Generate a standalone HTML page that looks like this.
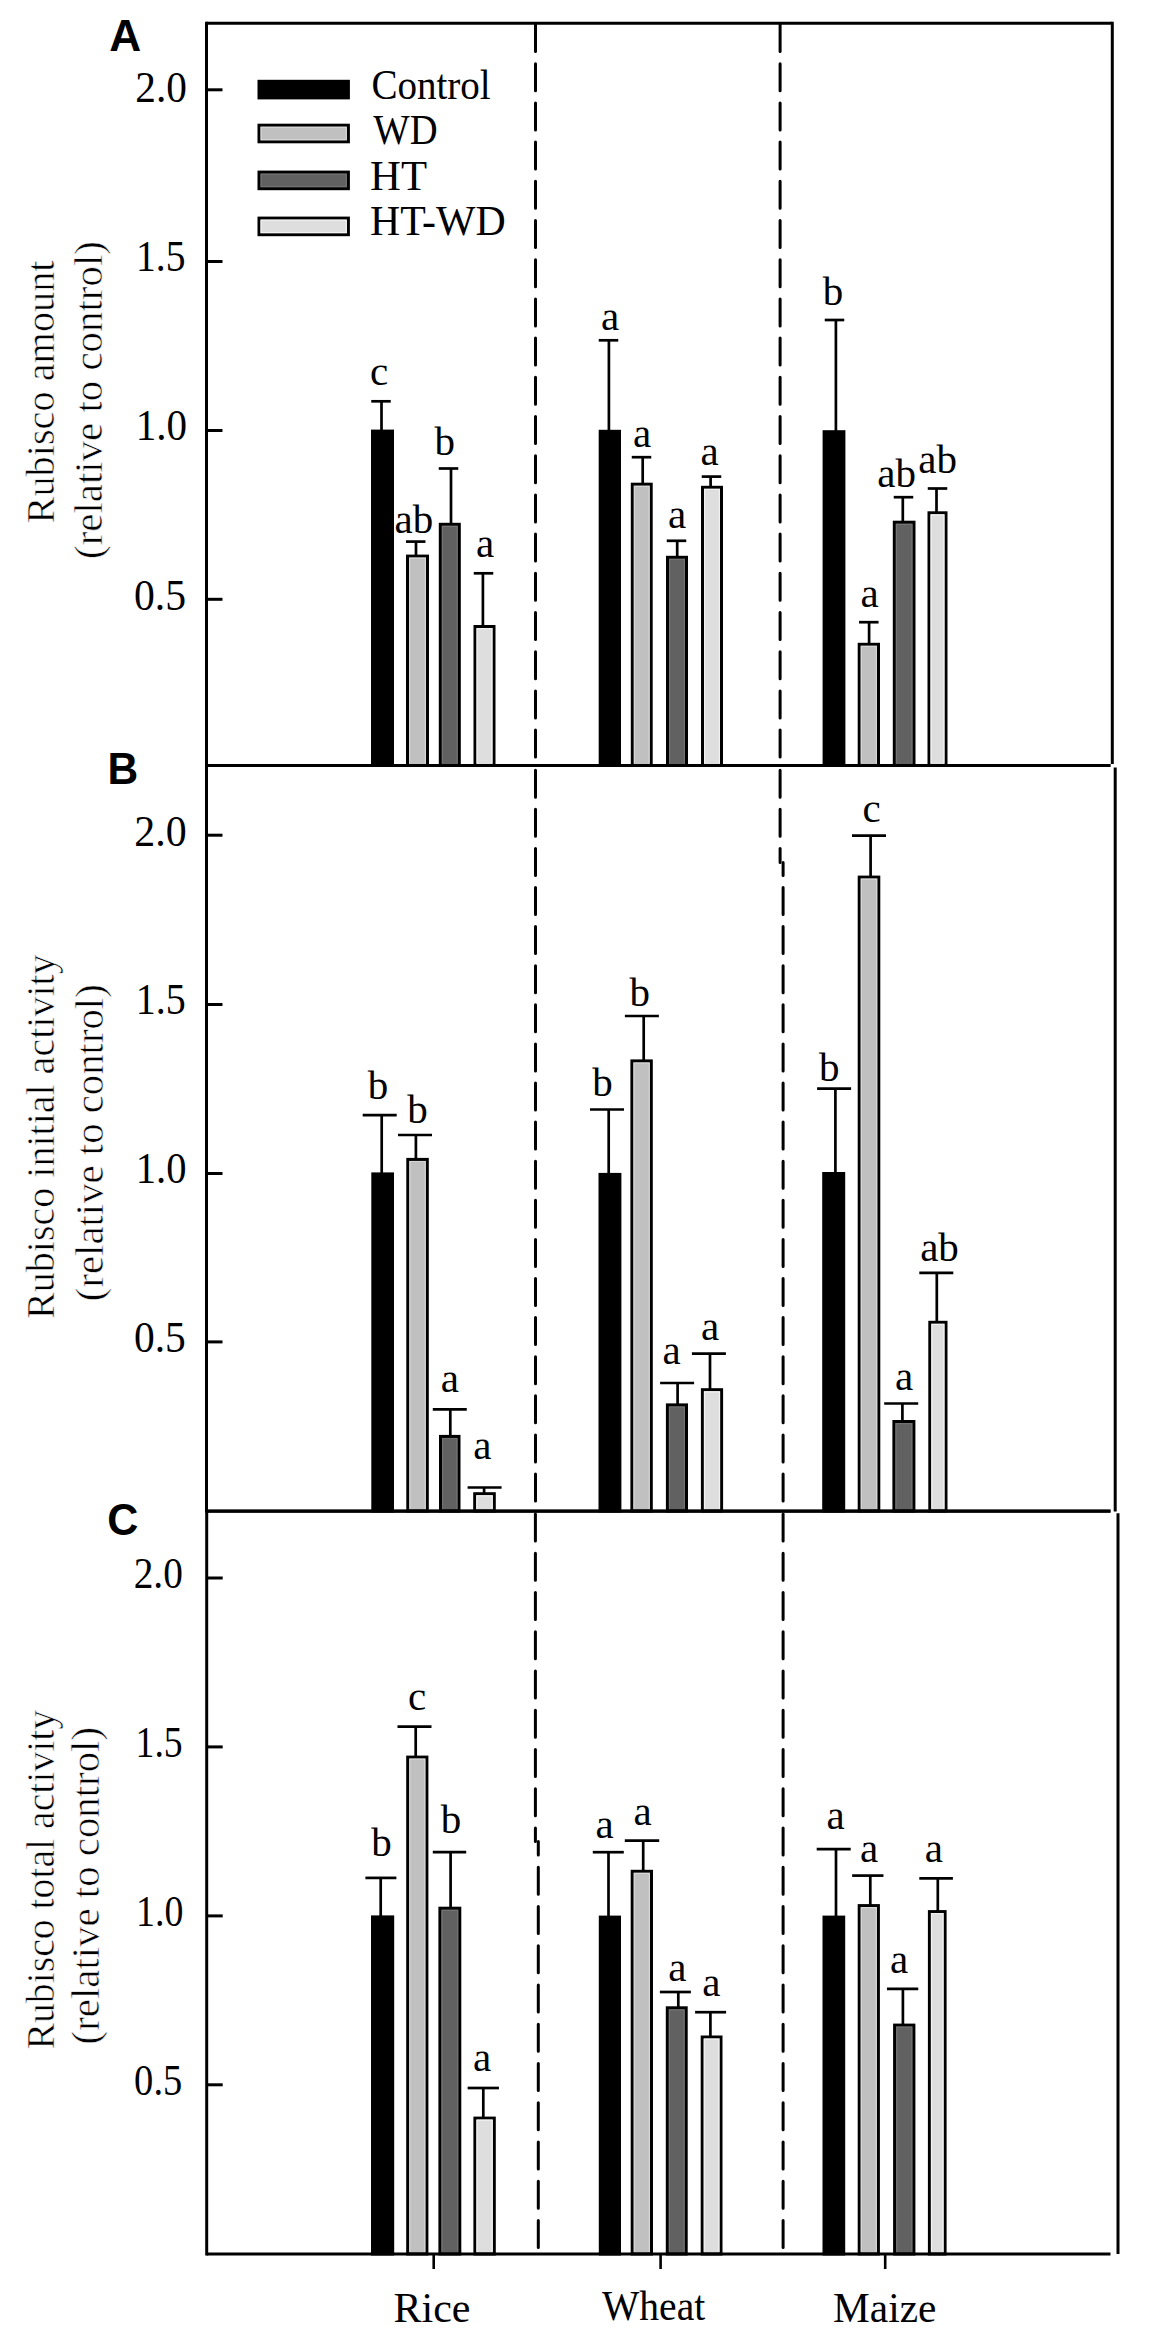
<!DOCTYPE html>
<html><head><meta charset="utf-8"><title>Rubisco chart</title>
<style>
html,body{margin:0;padding:0;background:#fff;}
body{width:1151px;height:2345px;overflow:hidden;}
svg{display:block;}
.s{font-family:"Liberation Serif",serif;font-size:41px;fill:#000;}
.r{stroke:#fff;stroke-width:0.6px;}
.p{font-family:"Liberation Sans",sans-serif;font-weight:bold;font-size:44px;fill:#000;}
</style></head><body>
<svg width="1151" height="2345" viewBox="0 0 1151 2345">
<rect x="0" y="0" width="1151" height="2345" fill="#fff"/>
<line x1="535.5" y1="23.3" x2="535.5" y2="765.5" stroke="#000" stroke-width="3.0" stroke-linecap="round" stroke-dasharray="27 12.2" stroke-dashoffset="38"/>
<line x1="780.1" y1="23.3" x2="780.1" y2="765.5" stroke="#000" stroke-width="3.0" stroke-linecap="round" stroke-dasharray="27 12.2" stroke-dashoffset="38"/>
<line x1="535.5" y1="765.5" x2="535.5" y2="1511" stroke="#000" stroke-width="3.0" stroke-linecap="round" stroke-dasharray="27 12.1" stroke-dashoffset="34.4"/>
<line x1="780.1" y1="765.5" x2="780.1" y2="862.5" stroke="#000" stroke-width="3.0" stroke-linecap="round" stroke-dasharray="27 12.1" stroke-dashoffset="34.4"/>
<line x1="783.1" y1="862.5" x2="783.1" y2="1511" stroke="#000" stroke-width="3.0" stroke-linecap="round" stroke-dasharray="27 12.1" stroke-dashoffset="14.1"/>
<line x1="535.4" y1="1511.3" x2="535.4" y2="1841.5" stroke="#000" stroke-width="3.0" stroke-linecap="round" stroke-dasharray="27 12.25" stroke-dashoffset="36.45"/>
<line x1="538.3" y1="1841.5" x2="538.3" y2="2254" stroke="#000" stroke-width="3.0" stroke-linecap="round" stroke-dasharray="27 12.25" stroke-dashoffset="13.4"/>
<line x1="783.1" y1="1511.3" x2="783.1" y2="2254" stroke="#000" stroke-width="3.0" stroke-linecap="round" stroke-dasharray="27 12.25" stroke-dashoffset="36.45"/>
<line x1="381.5" y1="401.3" x2="381.5" y2="430.6" stroke="#000" stroke-width="2.7"/>
<line x1="371.25" y1="401.3" x2="390.75" y2="401.3" stroke="#000" stroke-width="2.7"/>
<rect x="372.5" y="431.1" width="20" height="334.4" fill="#000000" stroke="#000" stroke-width="3.0"/>
<text x="379" y="384.8" class="s" text-anchor="middle">c</text>
<line x1="416" y1="541.6" x2="416" y2="555.6" stroke="#000" stroke-width="2.7"/>
<line x1="405.95" y1="541.6" x2="425.45" y2="541.6" stroke="#000" stroke-width="2.7"/>
<rect x="407.5" y="556.1" width="20" height="209.4" fill="#c0c0c0" stroke="#000" stroke-width="3.0"/>
<path d="M409.6,763.5 V558.2 H425.4 V763.5" fill="none" stroke="#d6d6d6" stroke-width="1.2"/>
<text x="413.8" y="533.2" class="s" text-anchor="middle">ab</text>
<line x1="451" y1="468.5" x2="451" y2="523.8" stroke="#000" stroke-width="2.7"/>
<line x1="438.75" y1="468.5" x2="458.25" y2="468.5" stroke="#000" stroke-width="2.7"/>
<rect x="440.3" y="524.3" width="19" height="241.2" fill="#616161" stroke="#000" stroke-width="3.0"/>
<path d="M442.4,763.5 V526.4 H457.2 V763.5" fill="none" stroke="#727272" stroke-width="1.2"/>
<text x="444.7" y="455" class="s" text-anchor="middle">b</text>
<line x1="482.9" y1="573.3" x2="482.9" y2="626" stroke="#000" stroke-width="2.7"/>
<line x1="473.75" y1="573.3" x2="493.25" y2="573.3" stroke="#000" stroke-width="2.7"/>
<rect x="475" y="626.5" width="19" height="139" fill="#dedede" stroke="#000" stroke-width="3.0"/>
<path d="M477.1,763.5 V628.6 H491.9 V763.5" fill="none" stroke="#f2f2f2" stroke-width="1.2"/>
<text x="485" y="557.3" class="s" text-anchor="middle">a</text>
<line x1="608.9" y1="340.3" x2="608.9" y2="430.8" stroke="#000" stroke-width="2.7"/>
<line x1="598.75" y1="340.3" x2="618.25" y2="340.3" stroke="#000" stroke-width="2.7"/>
<rect x="600.2" y="431.3" width="19.3" height="334.2" fill="#000000" stroke="#000" stroke-width="3.0"/>
<text x="610" y="330" class="s" text-anchor="middle">a</text>
<line x1="642.7" y1="457.2" x2="642.7" y2="483.7" stroke="#000" stroke-width="2.7"/>
<line x1="631.75" y1="457.2" x2="651.25" y2="457.2" stroke="#000" stroke-width="2.7"/>
<rect x="632.3" y="484.2" width="18.9" height="281.3" fill="#c0c0c0" stroke="#000" stroke-width="3.0"/>
<path d="M634.4,763.5 V486.3 H649.1 V763.5" fill="none" stroke="#d6d6d6" stroke-width="1.2"/>
<text x="642" y="446.5" class="s" text-anchor="middle">a</text>
<line x1="677.2" y1="540.8" x2="677.2" y2="556.8" stroke="#000" stroke-width="2.7"/>
<line x1="666.75" y1="540.8" x2="686.25" y2="540.8" stroke="#000" stroke-width="2.7"/>
<rect x="667.5" y="557.3" width="19" height="208.2" fill="#616161" stroke="#000" stroke-width="3.0"/>
<path d="M669.6,763.5 V559.4 H684.4 V763.5" fill="none" stroke="#727272" stroke-width="1.2"/>
<text x="677" y="528" class="s" text-anchor="middle">a</text>
<line x1="710.6" y1="476.6" x2="710.6" y2="486.8" stroke="#000" stroke-width="2.7"/>
<line x1="701.75" y1="476.6" x2="721.25" y2="476.6" stroke="#000" stroke-width="2.7"/>
<rect x="702.5" y="487.3" width="19" height="278.2" fill="#dedede" stroke="#000" stroke-width="3.0"/>
<path d="M704.6,763.5 V489.4 H719.4 V763.5" fill="none" stroke="#f2f2f2" stroke-width="1.2"/>
<text x="709.5" y="464.5" class="s" text-anchor="middle">a</text>
<line x1="835.9" y1="320" x2="835.9" y2="431.2" stroke="#000" stroke-width="2.7"/>
<line x1="824.75" y1="320" x2="844.25" y2="320" stroke="#000" stroke-width="2.7"/>
<rect x="824.1" y="431.7" width="19.8" height="333.8" fill="#000000" stroke="#000" stroke-width="3.0"/>
<text x="833" y="304.8" class="s" text-anchor="middle">b</text>
<line x1="869.1" y1="622.2" x2="869.1" y2="643.8" stroke="#000" stroke-width="2.7"/>
<line x1="859.05" y1="622.2" x2="878.55" y2="622.2" stroke="#000" stroke-width="2.7"/>
<rect x="859.2" y="644.3" width="19.3" height="121.2" fill="#c0c0c0" stroke="#000" stroke-width="3.0"/>
<path d="M861.3,763.5 V646.4 H876.4 V763.5" fill="none" stroke="#d6d6d6" stroke-width="1.2"/>
<text x="869.7" y="607" class="s" text-anchor="middle">a</text>
<line x1="902.8" y1="497.2" x2="902.8" y2="521.7" stroke="#000" stroke-width="2.7"/>
<line x1="893.75" y1="497.2" x2="913.25" y2="497.2" stroke="#000" stroke-width="2.7"/>
<rect x="894.3" y="522.2" width="19.7" height="243.3" fill="#616161" stroke="#000" stroke-width="3.0"/>
<path d="M896.4,763.5 V524.3 H911.9 V763.5" fill="none" stroke="#727272" stroke-width="1.2"/>
<text x="896.6" y="487.4" class="s" text-anchor="middle">ab</text>
<line x1="936.5" y1="488.5" x2="936.5" y2="512.3" stroke="#000" stroke-width="2.7"/>
<line x1="927.75" y1="488.5" x2="947.25" y2="488.5" stroke="#000" stroke-width="2.7"/>
<rect x="929" y="512.8" width="17" height="252.7" fill="#dedede" stroke="#000" stroke-width="3.0"/>
<path d="M931.1,763.5 V514.9 H943.9 V763.5" fill="none" stroke="#f2f2f2" stroke-width="1.2"/>
<text x="937.6" y="473" class="s" text-anchor="middle">ab</text>
<line x1="206.5" y1="21.8" x2="206.5" y2="767" stroke="#000" stroke-width="3.0"/>
<line x1="206.5" y1="23.3" x2="1112.3" y2="23.3" stroke="#000" stroke-width="3.0"/>
<line x1="206.5" y1="765.5" x2="1110.3" y2="765.5" stroke="#000" stroke-width="3.0"/>
<line x1="1112.3" y1="21.8" x2="1112.3" y2="764" stroke="#000" stroke-width="3.0"/>
<line x1="206.5" y1="89.8" x2="222.5" y2="89.8" stroke="#000" stroke-width="3.0"/>
<line x1="206.5" y1="261.5" x2="222.5" y2="261.5" stroke="#000" stroke-width="3.0"/>
<line x1="206.5" y1="430.5" x2="222.5" y2="430.5" stroke="#000" stroke-width="3.0"/>
<line x1="206.5" y1="599.3" x2="222.5" y2="599.3" stroke="#000" stroke-width="3.0"/>
<line x1="381.7" y1="1115.1" x2="381.7" y2="1173.4" stroke="#000" stroke-width="2.7"/>
<line x1="362.7" y1="1115.1" x2="396.7" y2="1115.1" stroke="#000" stroke-width="2.7"/>
<rect x="372.8" y="1173.9" width="19.7" height="337.1" fill="#000000" stroke="#000" stroke-width="3.0"/>
<text x="378" y="1099" class="s" text-anchor="middle">b</text>
<line x1="415.9" y1="1135" x2="415.9" y2="1158.9" stroke="#000" stroke-width="2.7"/>
<line x1="398" y1="1135" x2="432" y2="1135" stroke="#000" stroke-width="2.7"/>
<rect x="407.8" y="1159.4" width="19.5" height="351.6" fill="#c0c0c0" stroke="#000" stroke-width="3.0"/>
<path d="M409.9,1509 V1161.5 H425.2 V1509" fill="none" stroke="#d6d6d6" stroke-width="1.2"/>
<text x="417.5" y="1122.7" class="s" text-anchor="middle">b</text>
<line x1="450.3" y1="1409.3" x2="450.3" y2="1435.9" stroke="#000" stroke-width="2.7"/>
<line x1="432.8" y1="1409.3" x2="466.8" y2="1409.3" stroke="#000" stroke-width="2.7"/>
<rect x="440.5" y="1436.4" width="18.5" height="74.6" fill="#616161" stroke="#000" stroke-width="3.0"/>
<path d="M442.6,1509 V1438.5 H456.9 V1509" fill="none" stroke="#727272" stroke-width="1.2"/>
<text x="449.8" y="1391.9" class="s" text-anchor="middle">a</text>
<line x1="484.1" y1="1487.5" x2="484.1" y2="1493.2" stroke="#000" stroke-width="2.7"/>
<line x1="467.6" y1="1487.5" x2="501.6" y2="1487.5" stroke="#000" stroke-width="2.7"/>
<rect x="474.7" y="1493.7" width="19.6" height="17.3" fill="#dedede" stroke="#000" stroke-width="3.0"/>
<path d="M476.8,1509 V1495.8 H492.2 V1509" fill="none" stroke="#f2f2f2" stroke-width="1.2"/>
<text x="482.4" y="1459.4" class="s" text-anchor="middle">a</text>
<line x1="608.7" y1="1109.5" x2="608.7" y2="1173.9" stroke="#000" stroke-width="2.7"/>
<line x1="590" y1="1109.5" x2="624" y2="1109.5" stroke="#000" stroke-width="2.7"/>
<rect x="600" y="1174.4" width="19.9" height="336.6" fill="#000000" stroke="#000" stroke-width="3.0"/>
<text x="602.6" y="1095.5" class="s" text-anchor="middle">b</text>
<line x1="643.7" y1="1016" x2="643.7" y2="1060.4" stroke="#000" stroke-width="2.7"/>
<line x1="624.9" y1="1016" x2="658.9" y2="1016" stroke="#000" stroke-width="2.7"/>
<rect x="631.9" y="1060.9" width="19.4" height="450.1" fill="#c0c0c0" stroke="#000" stroke-width="3.0"/>
<path d="M634,1509 V1063 H649.2 V1509" fill="none" stroke="#d6d6d6" stroke-width="1.2"/>
<text x="639.8" y="1005.9" class="s" text-anchor="middle">b</text>
<line x1="677.6" y1="1383" x2="677.6" y2="1404.4" stroke="#000" stroke-width="2.7"/>
<line x1="660.1" y1="1383" x2="694.1" y2="1383" stroke="#000" stroke-width="2.7"/>
<rect x="667.4" y="1404.9" width="19.1" height="106.1" fill="#616161" stroke="#000" stroke-width="3.0"/>
<path d="M669.5,1509 V1407 H684.4 V1509" fill="none" stroke="#727272" stroke-width="1.2"/>
<text x="671.5" y="1363.8" class="s" text-anchor="middle">a</text>
<line x1="710" y1="1353.7" x2="710" y2="1389.2" stroke="#000" stroke-width="2.7"/>
<line x1="691.9" y1="1353.7" x2="725.9" y2="1353.7" stroke="#000" stroke-width="2.7"/>
<rect x="702.4" y="1389.7" width="19.2" height="121.3" fill="#dedede" stroke="#000" stroke-width="3.0"/>
<path d="M704.5,1509 V1391.8 H719.5 V1509" fill="none" stroke="#f2f2f2" stroke-width="1.2"/>
<text x="710" y="1340.1" class="s" text-anchor="middle">a</text>
<line x1="835.4" y1="1088.7" x2="835.4" y2="1173" stroke="#000" stroke-width="2.7"/>
<line x1="817.1" y1="1088.7" x2="851.1" y2="1088.7" stroke="#000" stroke-width="2.7"/>
<rect x="823.7" y="1173.5" width="20" height="337.5" fill="#000000" stroke="#000" stroke-width="3.0"/>
<text x="829.2" y="1081" class="s" text-anchor="middle">b</text>
<line x1="870.6" y1="835.6" x2="870.6" y2="876.6" stroke="#000" stroke-width="2.7"/>
<line x1="852" y1="835.6" x2="886" y2="835.6" stroke="#000" stroke-width="2.7"/>
<rect x="859.2" y="877.1" width="19.6" height="633.9" fill="#c0c0c0" stroke="#000" stroke-width="3.0"/>
<path d="M861.3,1509 V879.2 H876.7 V1509" fill="none" stroke="#d6d6d6" stroke-width="1.2"/>
<text x="871.5" y="822.4" class="s" text-anchor="middle">c</text>
<line x1="902.4" y1="1403.5" x2="902.4" y2="1421" stroke="#000" stroke-width="2.7"/>
<line x1="884.2" y1="1403.5" x2="918.2" y2="1403.5" stroke="#000" stroke-width="2.7"/>
<rect x="893.9" y="1421.5" width="20" height="89.5" fill="#616161" stroke="#000" stroke-width="3.0"/>
<path d="M896,1509 V1423.6 H911.8 V1509" fill="none" stroke="#727272" stroke-width="1.2"/>
<text x="904" y="1390.4" class="s" text-anchor="middle">a</text>
<line x1="936.8" y1="1272.8" x2="936.8" y2="1321.8" stroke="#000" stroke-width="2.7"/>
<line x1="919.3" y1="1272.8" x2="953.3" y2="1272.8" stroke="#000" stroke-width="2.7"/>
<rect x="929.8" y="1322.3" width="16.2" height="188.7" fill="#dedede" stroke="#000" stroke-width="3.0"/>
<path d="M931.9,1509 V1324.4 H943.9 V1509" fill="none" stroke="#f2f2f2" stroke-width="1.2"/>
<text x="939.5" y="1261.3" class="s" text-anchor="middle">ab</text>
<line x1="206.5" y1="764" x2="206.5" y2="1512.5" stroke="#000" stroke-width="3.0"/>
<line x1="206.5" y1="765.5" x2="1110.5" y2="765.5" stroke="#000" stroke-width="3.0"/>
<line x1="206.5" y1="1511" x2="1110.5" y2="1511" stroke="#000" stroke-width="3.0"/>
<line x1="1115.2" y1="767.5" x2="1115.2" y2="1511.5" stroke="#000" stroke-width="3.0"/>
<line x1="206.5" y1="835.2" x2="222.5" y2="835.2" stroke="#000" stroke-width="3.0"/>
<line x1="206.5" y1="1004.5" x2="222.5" y2="1004.5" stroke="#000" stroke-width="3.0"/>
<line x1="206.5" y1="1173.5" x2="222.5" y2="1173.5" stroke="#000" stroke-width="3.0"/>
<line x1="206.5" y1="1341.9" x2="222.5" y2="1341.9" stroke="#000" stroke-width="3.0"/>
<line x1="380.7" y1="1877.9" x2="380.7" y2="1916.4" stroke="#000" stroke-width="2.7"/>
<line x1="365.4" y1="1877.9" x2="396.4" y2="1877.9" stroke="#000" stroke-width="2.7"/>
<rect x="372.5" y="1916.9" width="20.2" height="337.1" fill="#000000" stroke="#000" stroke-width="3.0"/>
<text x="381.4" y="1856.4" class="s" text-anchor="middle">b</text>
<line x1="415.7" y1="1726.7" x2="415.7" y2="1756.6" stroke="#000" stroke-width="2.7"/>
<line x1="397.5" y1="1726.7" x2="431.5" y2="1726.7" stroke="#000" stroke-width="2.7"/>
<rect x="407.7" y="1757.1" width="19.2" height="496.9" fill="#c0c0c0" stroke="#000" stroke-width="3.0"/>
<path d="M409.8,2252 V1759.2 H424.8 V2252" fill="none" stroke="#d6d6d6" stroke-width="1.2"/>
<text x="417" y="1710.4" class="s" text-anchor="middle">c</text>
<line x1="450.6" y1="1852.2" x2="450.6" y2="1907.7" stroke="#000" stroke-width="2.7"/>
<line x1="432.8" y1="1852.2" x2="466.2" y2="1852.2" stroke="#000" stroke-width="2.7"/>
<rect x="439.9" y="1908.2" width="19.9" height="345.8" fill="#616161" stroke="#000" stroke-width="3.0"/>
<path d="M442,2252 V1910.3 H457.7 V2252" fill="none" stroke="#727272" stroke-width="1.2"/>
<text x="450.9" y="1832.7" class="s" text-anchor="middle">b</text>
<line x1="483.3" y1="2088" x2="483.3" y2="2117.6" stroke="#000" stroke-width="2.7"/>
<line x1="467.65" y1="2088" x2="498.95" y2="2088" stroke="#000" stroke-width="2.7"/>
<rect x="474.9" y="2118.1" width="19.4" height="135.9" fill="#dedede" stroke="#000" stroke-width="3.0"/>
<path d="M477,2252 V2120.2 H492.2 V2252" fill="none" stroke="#f2f2f2" stroke-width="1.2"/>
<text x="482.2" y="2071.3" class="s" text-anchor="middle">a</text>
<line x1="608.5" y1="1852.2" x2="608.5" y2="1916.6" stroke="#000" stroke-width="2.7"/>
<line x1="592.8" y1="1852.2" x2="623.8" y2="1852.2" stroke="#000" stroke-width="2.7"/>
<rect x="600.3" y="1917.1" width="19.2" height="336.9" fill="#000000" stroke="#000" stroke-width="3.0"/>
<text x="604.7" y="1837.7" class="s" text-anchor="middle">a</text>
<line x1="643.2" y1="1840.6" x2="643.2" y2="1870.8" stroke="#000" stroke-width="2.7"/>
<line x1="624.8" y1="1840.6" x2="659.2" y2="1840.6" stroke="#000" stroke-width="2.7"/>
<rect x="632.2" y="1871.3" width="19.3" height="382.7" fill="#c0c0c0" stroke="#000" stroke-width="3.0"/>
<path d="M634.3,2252 V1873.4 H649.4 V2252" fill="none" stroke="#d6d6d6" stroke-width="1.2"/>
<text x="642.7" y="1824.5" class="s" text-anchor="middle">a</text>
<line x1="678.3" y1="1992" x2="678.3" y2="2007.3" stroke="#000" stroke-width="2.7"/>
<line x1="659.9" y1="1992" x2="690.9" y2="1992" stroke="#000" stroke-width="2.7"/>
<rect x="667.3" y="2007.8" width="18.9" height="246.2" fill="#616161" stroke="#000" stroke-width="3.0"/>
<path d="M669.4,2252 V2009.9 H684.1 V2252" fill="none" stroke="#727272" stroke-width="1.2"/>
<text x="677.3" y="1981.2" class="s" text-anchor="middle">a</text>
<line x1="710.4" y1="2012.2" x2="710.4" y2="2036.5" stroke="#000" stroke-width="2.7"/>
<line x1="695.1" y1="2012.2" x2="726.1" y2="2012.2" stroke="#000" stroke-width="2.7"/>
<rect x="702.2" y="2037" width="18.8" height="217" fill="#dedede" stroke="#000" stroke-width="3.0"/>
<path d="M704.3,2252 V2039.1 H718.9 V2252" fill="none" stroke="#f2f2f2" stroke-width="1.2"/>
<text x="711.3" y="1995.8" class="s" text-anchor="middle">a</text>
<line x1="836" y1="1849.2" x2="836" y2="1916.6" stroke="#000" stroke-width="2.7"/>
<line x1="816.7" y1="1849.2" x2="850.7" y2="1849.2" stroke="#000" stroke-width="2.7"/>
<rect x="824" y="1917.1" width="19.7" height="336.9" fill="#000000" stroke="#000" stroke-width="3.0"/>
<text x="835.5" y="1829.4" class="s" text-anchor="middle">a</text>
<line x1="870.3" y1="1875.6" x2="870.3" y2="1905.1" stroke="#000" stroke-width="2.7"/>
<line x1="852.15" y1="1875.6" x2="883.45" y2="1875.6" stroke="#000" stroke-width="2.7"/>
<rect x="859.2" y="1905.6" width="19.2" height="348.4" fill="#c0c0c0" stroke="#000" stroke-width="3.0"/>
<path d="M861.3,2252 V1907.7 H876.3 V2252" fill="none" stroke="#d6d6d6" stroke-width="1.2"/>
<text x="869" y="1861.7" class="s" text-anchor="middle">a</text>
<line x1="902.9" y1="1988.9" x2="902.9" y2="2024.6" stroke="#000" stroke-width="2.7"/>
<line x1="886.95" y1="1988.9" x2="918.25" y2="1988.9" stroke="#000" stroke-width="2.7"/>
<rect x="894.6" y="2025.1" width="19.3" height="228.9" fill="#616161" stroke="#000" stroke-width="3.0"/>
<path d="M896.7,2252 V2027.2 H911.8 V2252" fill="none" stroke="#727272" stroke-width="1.2"/>
<text x="899" y="1972.9" class="s" text-anchor="middle">a</text>
<line x1="937.8" y1="1878.4" x2="937.8" y2="1911.1" stroke="#000" stroke-width="2.7"/>
<line x1="919.3" y1="1878.4" x2="952.9" y2="1878.4" stroke="#000" stroke-width="2.7"/>
<rect x="929.4" y="1911.6" width="15.7" height="342.4" fill="#dedede" stroke="#000" stroke-width="3.0"/>
<path d="M931.5,2252 V1913.7 H943 V2252" fill="none" stroke="#f2f2f2" stroke-width="1.2"/>
<text x="933.8" y="1861.7" class="s" text-anchor="middle">a</text>
<line x1="206.7" y1="1509.8" x2="206.7" y2="2255.5" stroke="#000" stroke-width="3.0"/>
<line x1="206.7" y1="1511.3" x2="1110.5" y2="1511.3" stroke="#000" stroke-width="3.0"/>
<line x1="206.7" y1="2254" x2="1110.5" y2="2254" stroke="#000" stroke-width="3.0"/>
<line x1="1118" y1="1513.3" x2="1118" y2="2254" stroke="#000" stroke-width="3.0"/>
<line x1="206.7" y1="1578" x2="222.7" y2="1578" stroke="#000" stroke-width="3.0"/>
<line x1="206.7" y1="1746.9" x2="222.7" y2="1746.9" stroke="#000" stroke-width="3.0"/>
<line x1="206.7" y1="1915.9" x2="222.7" y2="1915.9" stroke="#000" stroke-width="3.0"/>
<line x1="206.7" y1="2084.8" x2="222.7" y2="2084.8" stroke="#000" stroke-width="3.0"/>
<text transform="matrix(1.0083,0,0,1.0800,135.28,102.19)" class="s">2.0</text>
<text transform="matrix(0.9652,0,0,1.0800,136.04,271.14)" class="s">1.5</text>
<text transform="matrix(1.0022,0,0,1.0800,135.69,440.49)" class="s">1.0</text>
<text transform="matrix(1.0167,0,0,1.0800,133.97,609.64)" class="s">0.5</text>
<text transform="matrix(1.0229,0,0,1.0800,134.35,845.74)" class="s">2.0</text>
<text transform="matrix(0.9761,0,0,1.0800,135.80,1013.99)" class="s">1.5</text>
<text transform="matrix(0.9891,0,0,1.0800,135.74,1183.14)" class="s">1.0</text>
<text transform="matrix(1.0125,0,0,1.0800,133.98,1351.99)" class="s">0.5</text>
<text transform="matrix(0.9604,0,0,1.0800,133.68,1587.94)" class="s">2.0</text>
<text transform="matrix(0.9200,0,0,1.0800,135.56,1756.99)" class="s">1.5</text>
<text transform="matrix(0.9239,0,0,1.0800,136.00,1925.99)" class="s">1.0</text>
<text transform="matrix(0.9396,0,0,1.0800,134.12,2094.94)" class="s">0.5</text>
<text transform="matrix(0.9528,0,0,1.0400,371.39,99.30)" class="s">Control</text>
<text transform="matrix(0.9418,0,0,1.0400,373.30,144.46)" class="s">WD</text>
<text transform="matrix(1.0415,0,0,1.0400,370.06,189.90)" class="s">HT</text>
<text transform="matrix(1.0208,0,0,1.0400,370.08,235.46)" class="s">HT-WD</text>
<text transform="matrix(1.0247,0,0,1.0200,393.48,2321.70)" class="s">Rice</text>
<text transform="matrix(0.9645,0,0,1.0200,602.00,2320.18)" class="s">Wheat</text>
<text transform="matrix(1.0080,0,0,1.0200,833.09,2321.80)" class="s">Maize</text>
<text transform="matrix(1.0067,0,0,1.0000,109.29,50.50)" class="p">A</text>
<text transform="matrix(0.9667,0,0,0.9968,107.50,784.30)" class="p">B</text>
<text transform="matrix(0.9786,0,0,1.0032,107.34,1535.40)" class="p">C</text>
<text transform="matrix(0,-0.9831,1.0000,0,54.40,523.48)" class="s r">Rubisco amount</text>
<text transform="matrix(0,-0.9975,1.0000,0,102.20,558.99)" class="s r">(relative to control)</text>
<text transform="matrix(0,-0.9763,1.0000,0,54.40,1318.88)" class="s r">Rubisco initial activity</text>
<text transform="matrix(0,-0.9949,1.0000,0,102.90,1301.19)" class="s r">(relative to control)</text>
<text transform="matrix(0,-0.9691,1.0000,0,54.30,2049.57)" class="s r">Rubisco total activity</text>
<text transform="matrix(0,-0.9962,1.0000,0,99.00,2044.39)" class="s r">(relative to control)</text>
<line x1="433.7" y1="2254" x2="433.7" y2="2269" stroke="#000" stroke-width="2.6"/>
<line x1="660.6" y1="2254" x2="660.6" y2="2269" stroke="#000" stroke-width="2.6"/>
<line x1="885.2" y1="2254" x2="885.2" y2="2269" stroke="#000" stroke-width="2.6"/>
<rect x="259" y="81.3" width="89.4" height="16.6" fill="#000000" stroke="#000" stroke-width="3"/>
<rect x="259" y="125.2" width="89.4" height="16.6" fill="#c0c0c0" stroke="#000" stroke-width="3"/>
<rect x="261.1" y="127.3" width="85.2" height="12.4" fill="none" stroke="#d6d6d6" stroke-width="1.2"/>
<rect x="259" y="172.1" width="89.4" height="16.6" fill="#616161" stroke="#000" stroke-width="3"/>
<rect x="261.1" y="174.2" width="85.2" height="12.4" fill="none" stroke="#727272" stroke-width="1.2"/>
<rect x="259" y="218.1" width="89.4" height="16.6" fill="#dedede" stroke="#000" stroke-width="3"/>
<rect x="261.1" y="220.2" width="85.2" height="12.4" fill="none" stroke="#f2f2f2" stroke-width="1.2"/>
</svg>
</body></html>
